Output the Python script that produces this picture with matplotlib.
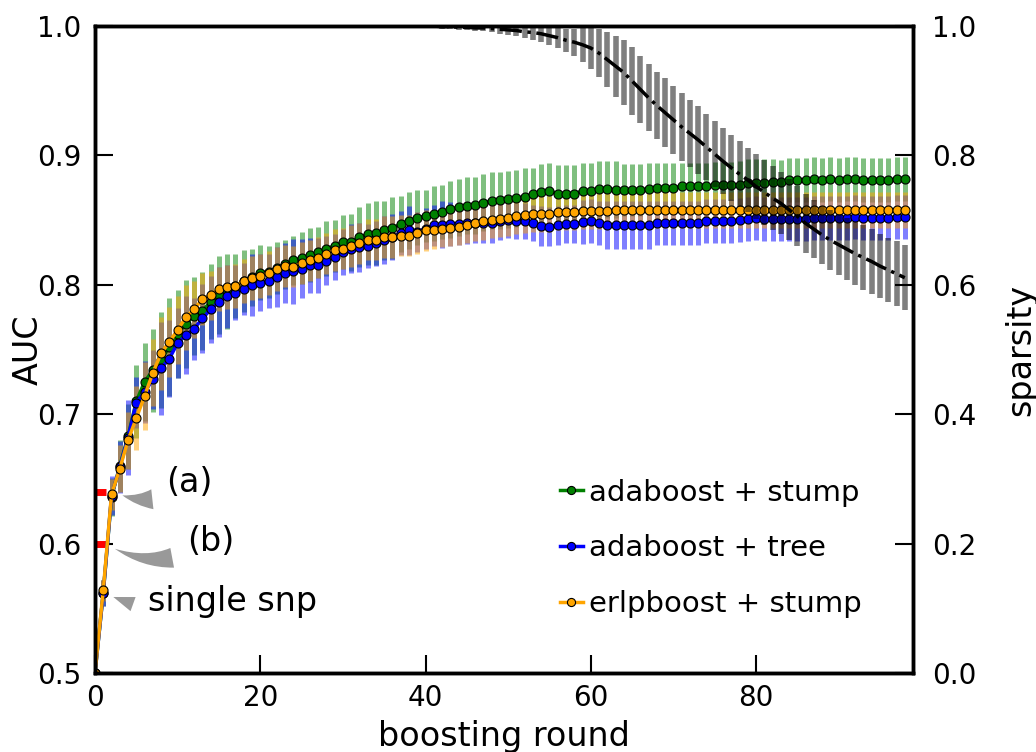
import matplotlib
matplotlib.use("Agg")
import matplotlib.pyplot as plt
import numpy as np

# AUC per boosting round (mean)
auc_stump = [0.500, 0.562, 0.636, 0.660, 0.683, 0.710, 0.725, 0.734, 0.742, 0.752,
             0.762, 0.770, 0.776, 0.780, 0.787, 0.792, 0.795, 0.799, 0.803, 0.806,
             0.8095, 0.810, 0.813, 0.816, 0.819, 0.8205, 0.823, 0.825, 0.828, 0.830,
             0.833, 0.833, 0.837, 0.839, 0.840, 0.842, 0.844, 0.847, 0.8495, 0.852,
             0.853, 0.855, 0.8565, 0.8585, 0.860, 0.861, 0.8615, 0.8635, 0.865, 0.8655,
             0.866, 0.867, 0.868, 0.870, 0.8715, 0.8725, 0.8705, 0.8705, 0.8705, 0.8725,
             0.8725, 0.874, 0.874, 0.8735, 0.8735, 0.8735, 0.8735, 0.874, 0.8745, 0.8745,
             0.8745, 0.8765, 0.8765, 0.876, 0.876, 0.877, 0.877, 0.877, 0.8775, 0.879,
             0.879, 0.879, 0.8795, 0.8795, 0.881, 0.881, 0.881, 0.8815, 0.881, 0.8815,
             0.881, 0.8815, 0.8815, 0.881, 0.881, 0.881, 0.881, 0.8815, 0.8815]
auc_tree = [0.500, 0.562, 0.637, 0.659, 0.682, 0.709, 0.717, 0.727, 0.7355, 0.743,
            0.755, 0.761, 0.766, 0.774, 0.781, 0.787, 0.791, 0.794, 0.797, 0.800,
            0.8015, 0.803, 0.806, 0.809, 0.8105, 0.8125, 0.815, 0.815, 0.8185, 0.8215,
            0.8255, 0.828, 0.829, 0.830, 0.832, 0.8345, 0.837, 0.840, 0.842, 0.841,
            0.8435, 0.846, 0.8465, 0.847, 0.847, 0.8475, 0.8475, 0.8475, 0.8475, 0.849,
            0.850, 0.8495, 0.8495, 0.848, 0.8455, 0.845, 0.846, 0.847, 0.847, 0.8485,
            0.849, 0.848, 0.8465, 0.8465, 0.8465, 0.8465, 0.8465, 0.8465, 0.8475, 0.848,
            0.848, 0.848, 0.848, 0.848, 0.849, 0.849, 0.849, 0.8495, 0.850, 0.8505,
            0.852, 0.851, 0.8505, 0.8505, 0.851, 0.851, 0.851, 0.852, 0.852, 0.852,
            0.8515, 0.852, 0.8525, 0.852, 0.852, 0.8515, 0.8515, 0.8525, 0.8525]
auc_erlp = [0.500, 0.564, 0.638, 0.658, 0.680, 0.697, 0.714, 0.732, 0.747, 0.756,
            0.765, 0.775, 0.781, 0.789, 0.792, 0.797, 0.798, 0.799, 0.803, 0.805,
            0.807, 0.809, 0.812, 0.8145, 0.814, 0.817, 0.819, 0.821, 0.824, 0.827,
            0.828, 0.830, 0.832, 0.835, 0.835, 0.837, 0.837, 0.838, 0.838, 0.840,
            0.842, 0.842, 0.843, 0.844, 0.845, 0.8465, 0.848, 0.849, 0.850, 0.851,
            0.852, 0.853, 0.854, 0.8545, 0.855, 0.855, 0.856, 0.856, 0.856, 0.857,
            0.857, 0.857, 0.857, 0.858, 0.858, 0.858, 0.858, 0.858, 0.858, 0.858,
            0.858, 0.858, 0.858, 0.858, 0.858, 0.858, 0.858, 0.858, 0.858, 0.858,
            0.858, 0.858, 0.858, 0.858, 0.858, 0.858, 0.858, 0.858, 0.858, 0.858,
            0.858, 0.858, 0.858, 0.858, 0.858, 0.858, 0.858, 0.858, 0.858]

# error bar half widths
err_stump = [0.0, 0.010, 0.015, 0.020, 0.025, 0.028, 0.030, 0.032, 0.037, 0.038,
             0.034, 0.034, 0.030, 0.030, 0.029, 0.030, 0.029, 0.025, 0.024, 0.022,
             0.021, 0.020, 0.020, 0.019, 0.019, 0.020, 0.021, 0.020, 0.021, 0.020,
             0.021, 0.022, 0.023, 0.024, 0.025, 0.023, 0.024, 0.022, 0.022, 0.021,
             0.020, 0.021, 0.021, 0.022, 0.022, 0.022, 0.022, 0.022, 0.022, 0.022,
             0.022, 0.022, 0.022, 0.020, 0.022, 0.022, 0.022, 0.022, 0.022, 0.022,
             0.022, 0.022, 0.022, 0.022, 0.020, 0.020, 0.020, 0.020, 0.020, 0.020,
             0.020, 0.018, 0.018, 0.018, 0.018, 0.018, 0.018, 0.018, 0.018, 0.018,
             0.018, 0.018, 0.018, 0.017, 0.017, 0.017, 0.017, 0.017, 0.017, 0.017,
             0.017, 0.017, 0.017, 0.017, 0.017, 0.017, 0.017, 0.017, 0.017]
err_tree = [0.0, 0.010, 0.015, 0.020, 0.029, 0.020, 0.024, 0.023, 0.036, 0.030,
            0.027, 0.030, 0.024, 0.027, 0.026, 0.027, 0.024, 0.021, 0.020, 0.024,
            0.022, 0.021, 0.023, 0.023, 0.025, 0.023, 0.021, 0.021, 0.019, 0.018,
            0.018, 0.019, 0.019, 0.017, 0.0175, 0.0185, 0.018, 0.017, 0.019, 0.0155,
            0.016, 0.016, 0.018, 0.017, 0.016, 0.016, 0.0155, 0.0155, 0.0155, 0.014,
            0.014, 0.014, 0.014, 0.014, 0.0155, 0.015, 0.015, 0.015, 0.015, 0.017,
            0.017, 0.017, 0.0185, 0.0185, 0.0185, 0.0185, 0.0185, 0.0185, 0.017, 0.017,
            0.017, 0.017, 0.017, 0.017, 0.017, 0.017, 0.017, 0.017, 0.017, 0.017,
            0.017, 0.017, 0.017, 0.017, 0.017, 0.017, 0.017, 0.017, 0.017, 0.017,
            0.017, 0.017, 0.017, 0.017, 0.017, 0.017, 0.017, 0.017, 0.017]
err_erlp = [0.0, 0.008, 0.012, 0.018, 0.022, 0.025, 0.026, 0.026, 0.028, 0.027,
            0.026, 0.025, 0.022, 0.020, 0.019, 0.017, 0.017, 0.017, 0.017, 0.017,
            0.017, 0.017, 0.017, 0.016, 0.016, 0.016, 0.016, 0.016, 0.016, 0.016,
            0.016, 0.016, 0.016, 0.016, 0.016, 0.016, 0.016, 0.016, 0.016, 0.016,
            0.016, 0.014, 0.014, 0.014, 0.014, 0.014, 0.014, 0.014, 0.014, 0.014,
            0.014, 0.014, 0.014, 0.014, 0.014, 0.014, 0.014, 0.014, 0.014, 0.014,
            0.014, 0.014, 0.014, 0.014, 0.014, 0.014, 0.014, 0.014, 0.014, 0.014,
            0.014, 0.014, 0.014, 0.014, 0.014, 0.014, 0.014, 0.014, 0.014, 0.014,
            0.014, 0.014, 0.014, 0.014, 0.014, 0.014, 0.014, 0.014, 0.014, 0.014,
            0.014, 0.014, 0.014, 0.014, 0.014, 0.014, 0.014, 0.014, 0.014]

# sparsity (right axis)
sparsity = [1.0] * 42 + [
    0.999, 0.999, 0.998, 0.998, 0.997, 0.997, 0.996, 0.995,
    0.994, 0.993, 0.991, 0.990, 0.988, 0.985, 0.982, 0.978, 0.975, 0.971,
    0.966, 0.958, 0.948, 0.938, 0.928, 0.915, 0.902, 0.889, 0.877, 0.866,
    0.855, 0.844, 0.834, 0.824, 0.813, 0.802, 0.791, 0.781, 0.771, 0.762,
    0.752, 0.743, 0.734, 0.726, 0.716, 0.706, 0.695, 0.686, 0.677, 0.669,
    0.662, 0.655, 0.648, 0.642, 0.636, 0.629, 0.623, 0.617, 0.611]
sparsity_err = [0.0] * 42 + [
    0.003, 0.003, 0.004, 0.004, 0.005, 0.005, 0.006, 0.007,
    0.008, 0.009, 0.010, 0.011, 0.012, 0.014, 0.016, 0.018, 0.021, 0.027,
    0.032, 0.037, 0.042, 0.047, 0.050, 0.052, 0.052, 0.052, 0.052, 0.053,
    0.053, 0.053, 0.052, 0.052, 0.051, 0.051, 0.051, 0.051, 0.051, 0.050,
    0.050, 0.050, 0.049, 0.048, 0.047, 0.046, 0.046, 0.045, 0.045, 0.046,
    0.047, 0.048, 0.049, 0.050, 0.050, 0.050, 0.050, 0.050, 0.050]

# reference AUC marks (red) and annotation texts
ref_auc = [0.64, 0.60]
notes = ['(a)', '(b)', 'single snp']

rounds = np.arange(len(auc_stump))

fig = plt.figure(figsize=(10.36, 7.52), dpi=100)
ax = fig.add_axes([0.0917, 0.105, 0.7896, 0.8604])

series = [(auc_stump, err_stump, 'green', 'adaboost + stump'),
          (auc_tree, err_tree, 'blue', 'adaboost + tree'),
          (auc_erlp, err_erlp, 'orange', 'erlpboost + stump')]

for y, e, c, lab in series:
    ax.errorbar(rounds, y, yerr=e, fmt='none', ecolor=c, elinewidth=3.6,
                alpha=0.5, capsize=0)

for r in ref_auc:
    ax.plot([0, 1.3], [r, r], color='red', lw=5, solid_capstyle='butt')

for y, e, c, lab in series:
    ax.plot(rounds, y, '-o', color=c, lw=2.5, ms=6.5, mec='black', mew=0.8,
            label=lab)

ax.annotate(notes[0], xy=(3.0, 0.638), xytext=(11.4, 0.6476), fontsize=24,
            ha='center', va='center',
            arrowprops=dict(arrowstyle='wedge,tail_width=0.6', fc='0.6', ec='none',
                            shrinkA=8, connectionstyle='arc3,rad=-0.3'))
ax.annotate(notes[1], xy=(2.1, 0.597), xytext=(14.0, 0.602), fontsize=24,
            ha='center', va='center',
            arrowprops=dict(arrowstyle='wedge,tail_width=0.6', fc='0.6', ec='none',
                            shrinkA=9, connectionstyle='arc3,rad=-0.3'))
ax.annotate(notes[2], xy=(1.9, 0.5595), xytext=(16.6, 0.5556), fontsize=24,
            ha='center', va='center',
            arrowprops=dict(arrowstyle='wedge,tail_width=0.45', fc='0.6', ec='none',
                            relpos=(0.0, 0.25), shrinkA=9, shrinkB=2,
                            connectionstyle='arc3,rad=0.0'))

ax.set_xlim(0, 99)
ax.set_ylim(0.5, 1.0)
ax.set_xticks([0, 20, 40, 60, 80])
ax.set_yticks([0.5, 0.6, 0.7, 0.8, 0.9, 1.0])
ax.tick_params(axis='both', direction='in', length=13, width=1.5, labelsize=20)
ax.tick_params(axis='y', pad=10)
ax.tick_params(axis='x', pad=8, top=False)
ax.set_xlabel('boosting round', fontsize=24)
ax.set_ylabel('AUC', fontsize=24)
ax.xaxis.set_label_coords(0.5, -0.073)
ax.yaxis.set_label_coords(-0.062, 0.5)

ax.legend(loc='lower right', bbox_to_anchor=(0.937, 0.085), frameon=False,
          fontsize=21, handlelength=0.8, handletextpad=0.2, labelspacing=0.95,
          markerscale=0.9, borderpad=0, borderaxespad=0)

ax2 = ax.twinx()
ax2.errorbar(rounds, sparsity, yerr=sparsity_err, fmt='none', ecolor='black',
             elinewidth=4, alpha=0.5, capsize=0)
ax2.plot(rounds, sparsity, '-.', color='black', lw=2.5)
ax2.set_ylim(0, 1.0)
ax2.set_yticks([0.0, 0.2, 0.4, 0.6, 0.8, 1.0])
ax2.tick_params(axis='y', direction='in', length=13, width=1.5, labelsize=20, pad=14)
ax2.set_ylabel('sparsity', fontsize=24)
ax2.yaxis.set_label_coords(1.112, 0.5)

for a in (ax, ax2):
    for s in a.spines.values():
        s.set_linewidth(2.5)

fig.savefig('out.png', dpi=100)
